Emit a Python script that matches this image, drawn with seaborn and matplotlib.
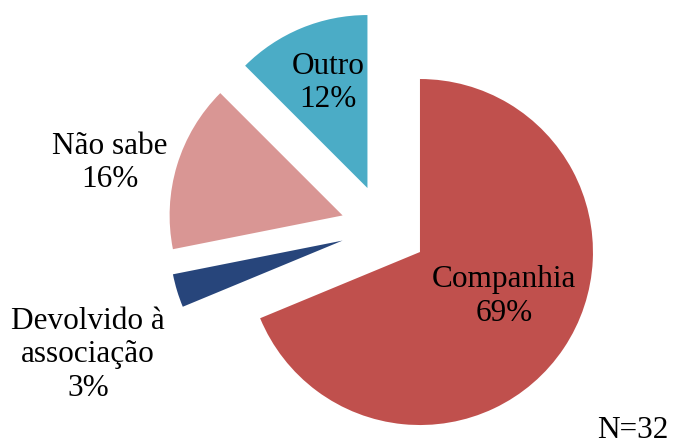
import numpy as np
import matplotlib.pyplot as plt
import seaborn as sns

# data
categories = ["Companhia", "Devolvido à\nassociação", "Não sabe", "Outro"]
counts = [22, 1, 5, 4]          # N=32
pct_labels = ["69%", "3%", "16%", "12%"]
colors = ["#C0504D", "#27457B", "#D99694", "#4BACC6"]

# label placement (radius in pie units, angle offset from wedge bisector in degrees)
label_dist = [0.80, 1.86, 1.63, 0.90]
label_shift = [4.0, 6.3, 3.5, -1.4]

sns.set_theme(style="white")
plt.rcParams['font.family'] = ['Liberation Serif', 'DejaVu Serif']

fig = plt.figure(figsize=(6.74, 4.47), dpi=100)
ax = fig.add_axes([0, 0, 1, 1])

wedges, _ = ax.pie(counts, colors=colors, startangle=90, counterclock=False,
                   explode=[0.25] * len(counts), radius=1.0,
                   wedgeprops=dict(linewidth=0))

for w, cat, pct, r, dth in zip(wedges, categories, pct_labels, label_dist, label_shift):
    ang = np.deg2rad((w.theta1 + w.theta2) / 2 + dth)
    ax.text(r * np.cos(ang), r * np.sin(ang), f"{cat}\n{pct}",
            ha='center', va='center', multialignment='center',
            fontsize=22.5, color='black', linespacing=1.2)

# pie center at (384, 228) px, radius 173 px
R = 173.0
ax.set_xlim(-384 / R, (674 - 384) / R)
ax.set_ylim(-(447 - 228) / R, 228 / R)
ax.set_aspect('equal')
ax.axis('off')

# sample size note, tucked in the bottom-right corner
fig.text(597 / 674, 2 / 447, "N=32", ha='left', va='bottom',
         fontsize=22.5, color='black')

fig.savefig("out.png", dpi=100)
